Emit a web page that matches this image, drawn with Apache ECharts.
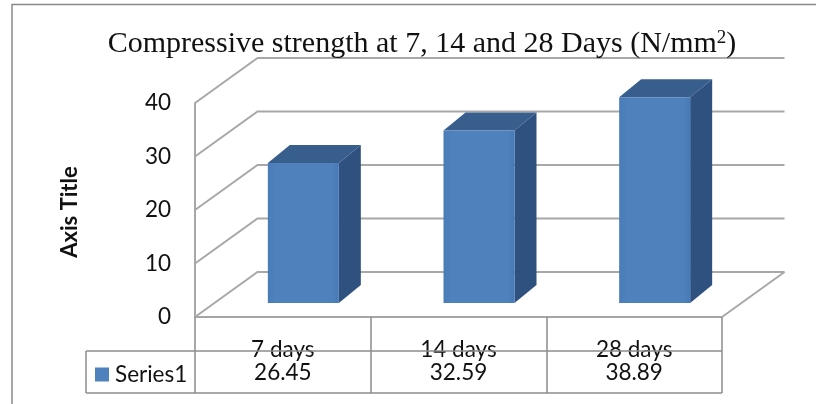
<!DOCTYPE html>
<html>
<head>
<meta charset="utf-8">
<style>html,body{margin:0;padding:0;background:#fff}#chart{width:816px;height:404px}</style>
<script src="https://cdn.jsdelivr.net/npm/echarts@6/dist/echarts.min.js"></script>
</head>
<body>
<div id="chart"></div>
<script>
const categories = ['7 days', '14 days', '28 days'];
const strength = [26.45, 32.59, 38.89];
const yTicks = [0, 10, 20, 30, 40];
const seriesName = 'Series1';

// Oblique projection of the 3D box: how far the rear plane and the bars sit from the front plane
const WALL_DX = 62.5, WALL_DY = -45;
const BAR_DX = 20.5, BAR_DY = -14;
const BAR_WIDTH = 71, BAR_DEPTH_X = 22, BAR_DEPTH_Y = -18;
const BAR_SCALE = 0.989;
const TABLE_ROW_Y = 373;

const wallStyle = { stroke: '#a8a8a8', lineWidth: 2, fill: null };

function renderWall(params, api) {
  const cs = params.coordSys;
  const y = api.coord([0, api.value(0)])[1];
  const x0 = cs.x, x1 = cs.x + cs.width;
  const children = [{
    type: 'polyline',
    shape: { points: [[x0, y], [x0 + WALL_DX, y + WALL_DY], [x1 + WALL_DX, y + WALL_DY]] },
    style: wallStyle
  }];
  if (api.value(0) === 0) {
    // Floor edge on the right-hand side
    children.push({
      type: 'line',
      shape: { x1: x1, y1: y, x2: x1 + WALL_DX, y2: y + WALL_DY },
      style: wallStyle
    });
  }
  return { type: 'group', children };
}

function renderBar(params, api) {
  const idx = api.value(0);
  const val = api.value(1);
  const base = api.coord([idx, 0]);
  const h = api.size([0, val])[1] * BAR_SCALE;
  const l = base[0] + BAR_DX - BAR_WIDTH / 2;
  const r = l + BAR_WIDTH;
  const b = base[1] + BAR_DY;
  const t = b - h;
  const dx = BAR_DEPTH_X, dy = BAR_DEPTH_Y;
  return {
    type: 'group',
    children: [
      {
        type: 'polygon',
        shape: { points: [[l, t], [r, t], [r + dx, t + dy], [l + dx, t + dy]] },
        style: { fill: '#385e8d' }
      },
      {
        type: 'polygon',
        shape: { points: [[r, t], [r + dx, t + dy], [r + dx, b + dy], [r, b]] },
        style: { fill: '#2f5180' }
      },
      {
        type: 'rect',
        shape: { x: l, y: t, width: BAR_WIDTH, height: h },
        style: {
          fill: new echarts.graphic.LinearGradient(0, 0, 1, 0, [
            { offset: 0, color: '#4a7cb8' },
            { offset: 0.12, color: '#4f81bd' },
            { offset: 0.9, color: '#4f81bd' },
            { offset: 1, color: '#467ab6' }
          ])
        }
      },
      {
        // Value row of the data table
        type: 'text',
        style: {
          x: base[0], y: TABLE_ROW_Y,
          text: val.toFixed(2),
          fill: '#111',
          font: '22.5px Lato',
          align: 'center', verticalAlign: 'middle'
        }
      }
    ]
  };
}

const tableLine = { stroke: '#8c8c8c', lineWidth: 1.5 };

const option = {
  animation: false,
  backgroundColor: '#fff',
  title: {
    text: 'Compressive strength at 7, 14 and 28 Days (N/mm{sup|2})',
    left: 417, top: 24, textAlign: 'center',
    textStyle: {
      fontFamily: 'Liberation Serif', fontSize: 30, fontWeight: 'normal', color: '#111',
      rich: { sup: { fontFamily: 'Liberation Serif', fontSize: 19, verticalAlign: 'top', padding: [0, 0, 12, 0], color: '#111' } }
    }
  },
  legend: {
    data: [seriesName],
    left: 95, top: 363,
    itemWidth: 14, itemHeight: 14, itemGap: 0, icon: 'rect',
    padding: 0,
    textStyle: { fontFamily: 'Lato', fontSize: 22.5, color: '#111', padding: [0, 0, 6, 1] }
  },
  grid: { left: 195, top: 103, width: 527, height: 214 },
  xAxis: {
    type: 'category',
    data: categories,
    axisLine: { show: true, lineStyle: { color: '#a6a6a6', width: 2 } },
    axisTick: { show: true, length: 76, lineStyle: { color: '#8c8c8c', width: 1.5 } },
    axisLabel: { fontFamily: 'Lato', fontSize: 22.5, color: '#111', margin: 21 },
    splitLine: { show: false }
  },
  yAxis: {
    type: 'value',
    min: 0, max: 40, interval: 10,
    name: 'Axis Title',
    nameLocation: 'middle',
    nameGap: 114,
    nameTextStyle: { fontFamily: 'Lato', fontSize: 22, fontWeight: 'bold', color: '#111', padding: [0, 4, 0, 0] },
    axisLine: { show: true, lineStyle: { color: '#a8a8a8', width: 2 } },
    axisTick: { show: false },
    axisLabel: { fontFamily: 'Lato', fontSize: 22.5, color: '#111', margin: 24, padding: [14, 0, 0, 0] },
    splitLine: { show: false }
  },
  series: [
    {
      name: 'walls',
      type: 'custom',
      renderItem: renderWall,
      clip: false,
      silent: true,
      z: 1,
      encode: { y: 0 },
      data: yTicks.map(v => [v])
    },
    {
      name: seriesName,
      type: 'custom',
      renderItem: renderBar,
      clip: false,
      z: 3,
      itemStyle: { color: '#4f81bd' },
      encode: { x: 0, y: 1 },
      data: strength.map((v, i) => [i, v])
    }
  ],
  graphic: [
    // Outer chart frame, running off the right and bottom of the page
    { type: 'rect', silent: true, z: 0, shape: { x: 12, y: 4.5, width: 900, height: 500 }, style: { fill: null, stroke: '#8a8a8a', lineWidth: 1.5 } },
    // Data table rules
    { type: 'line', silent: true, z: 10, shape: { x1: 86, y1: 351, x2: 722, y2: 351 }, style: tableLine },
    { type: 'line', silent: true, z: 10, shape: { x1: 86, y1: 393, x2: 722, y2: 393 }, style: tableLine },
    { type: 'line', silent: true, z: 10, shape: { x1: 86, y1: 351, x2: 86, y2: 393 }, style: tableLine }
  ]
};

echarts.init(document.getElementById('chart'), null, { renderer: 'canvas' }).setOption(option);
</script>
</body>
</html>
